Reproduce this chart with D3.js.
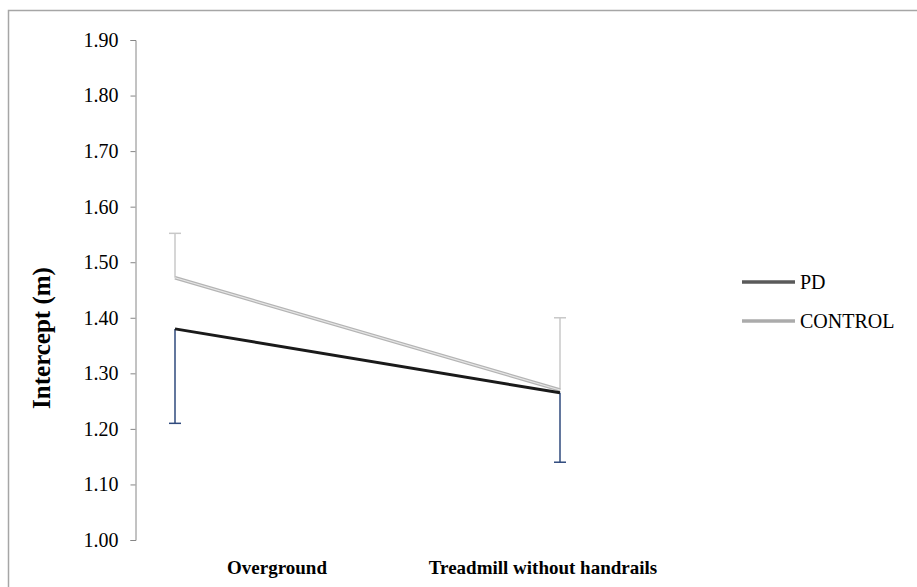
<!DOCTYPE html>
<html><head><meta charset="utf-8">
<script src="https://cdn.jsdelivr.net/npm/d3@7"></script>
<style>body{margin:0;background:#fff}svg{display:block}</style>
</head><body><svg id="c" width="917" height="587"></svg>
<script>
const categories = ["Overground", "Treadmill without handrails"];
const pdValues = [1.38, 1.265];
const pdErrLow = [1.21, 1.14];
const controlValues = [1.472, 1.27];
const controlErrHigh = [1.552, 1.40];
const yTicks = [1.00, 1.10, 1.20, 1.30, 1.40, 1.50, 1.60, 1.70, 1.80, 1.90];
const seriesNames = ["PD", "CONTROL"];

const svg = d3.select("#c");
const serif = "'Liberation Serif','Times New Roman',serif";

svg.append("rect").attr("x", 8.5).attr("y", 10.5).attr("width", 1000).attr("height", 1000)
  .attr("fill", "#fff").attr("stroke", "#a6a6a6").attr("stroke-width", 1.5);

const y = d3.scaleLinear().domain([1.0, 1.9]).range([540, 40]);
const x = d3.scalePoint().domain(categories).range([175, 560]);
const xl = d3.scalePoint().domain(categories).range([277, 543]);

const yAxis = d3.axisLeft(y).tickValues(yTicks).tickFormat(d3.format(".2f")).tickSize(5).tickPadding(12);
const ga = svg.append("g").attr("transform", "translate(135.5,0)").call(yAxis);
ga.select(".domain").attr("stroke", "#868686");
ga.selectAll(".tick line").attr("stroke", "#868686");
ga.selectAll(".tick text").attr("font-family", serif).attr("font-size", 20).attr("fill", "#000");

svg.append("text").attr("transform", "translate(50,338) rotate(-90)").attr("text-anchor", "middle")
  .attr("font-family", serif).attr("font-weight", "bold").attr("font-size", 25).text("Intercept (m)");

svg.selectAll(".xl").data(categories).join("text").attr("class", "xl")
  .attr("x", d => xl(d)).attr("y", 574).attr("text-anchor", "middle")
  .attr("font-family", serif).attr("font-weight", "bold").attr("font-size", 19).text(d => d);

// error bars
const cap = 6;
categories.forEach((c, i) => {
  const cx = x(c);
  svg.append("line").attr("x1", cx).attr("x2", cx).attr("y1", y(controlValues[i])).attr("y2", y(controlErrHigh[i]))
    .attr("stroke", "#c8c8c8").attr("stroke-width", 1.5);
  svg.append("line").attr("x1", cx - cap).attr("x2", cx + cap).attr("y1", y(controlErrHigh[i])).attr("y2", y(controlErrHigh[i]))
    .attr("stroke", "#c8c8c8").attr("stroke-width", 1.5);
  svg.append("line").attr("x1", cx).attr("x2", cx).attr("y1", y(pdValues[i])).attr("y2", y(pdErrLow[i]))
    .attr("stroke", "#2f4a7d").attr("stroke-width", 1.5);
  svg.append("line").attr("x1", cx - cap).attr("x2", cx + cap).attr("y1", y(pdErrLow[i])).attr("y2", y(pdErrLow[i]))
    .attr("stroke", "#2f4a7d").attr("stroke-width", 1.5);
});

const line = d3.line().x((d, i) => x(categories[i])).y(d => y(d));
svg.append("path").datum(controlValues).attr("d", line).attr("fill", "none").attr("stroke", "#b4b4b4").attr("stroke-width", 3.5);
svg.append("path").datum(controlValues).attr("d", line).attr("fill", "none").attr("stroke", "#e6e6e6").attr("stroke-width", 1.2);
svg.append("path").datum(pdValues).attr("d", line).attr("fill", "none").attr("stroke", "#1a1a1a").attr("stroke-width", 3);

// legend
const legColors = ["#5a5a5a", "#ababab"];
const ly = d3.scalePoint().domain(seriesNames).range([282, 321]);
seriesNames.forEach((s, i) => {
  svg.append("line").attr("x1", 742).attr("x2", 795).attr("y1", ly(s)).attr("y2", ly(s))
    .attr("stroke", legColors[i]).attr("stroke-width", 3.5);
  svg.append("text").attr("x", 800).attr("y", ly(s) + 7).attr("font-family", serif).attr("font-size", 20).text(s);
});
</script></body></html>
